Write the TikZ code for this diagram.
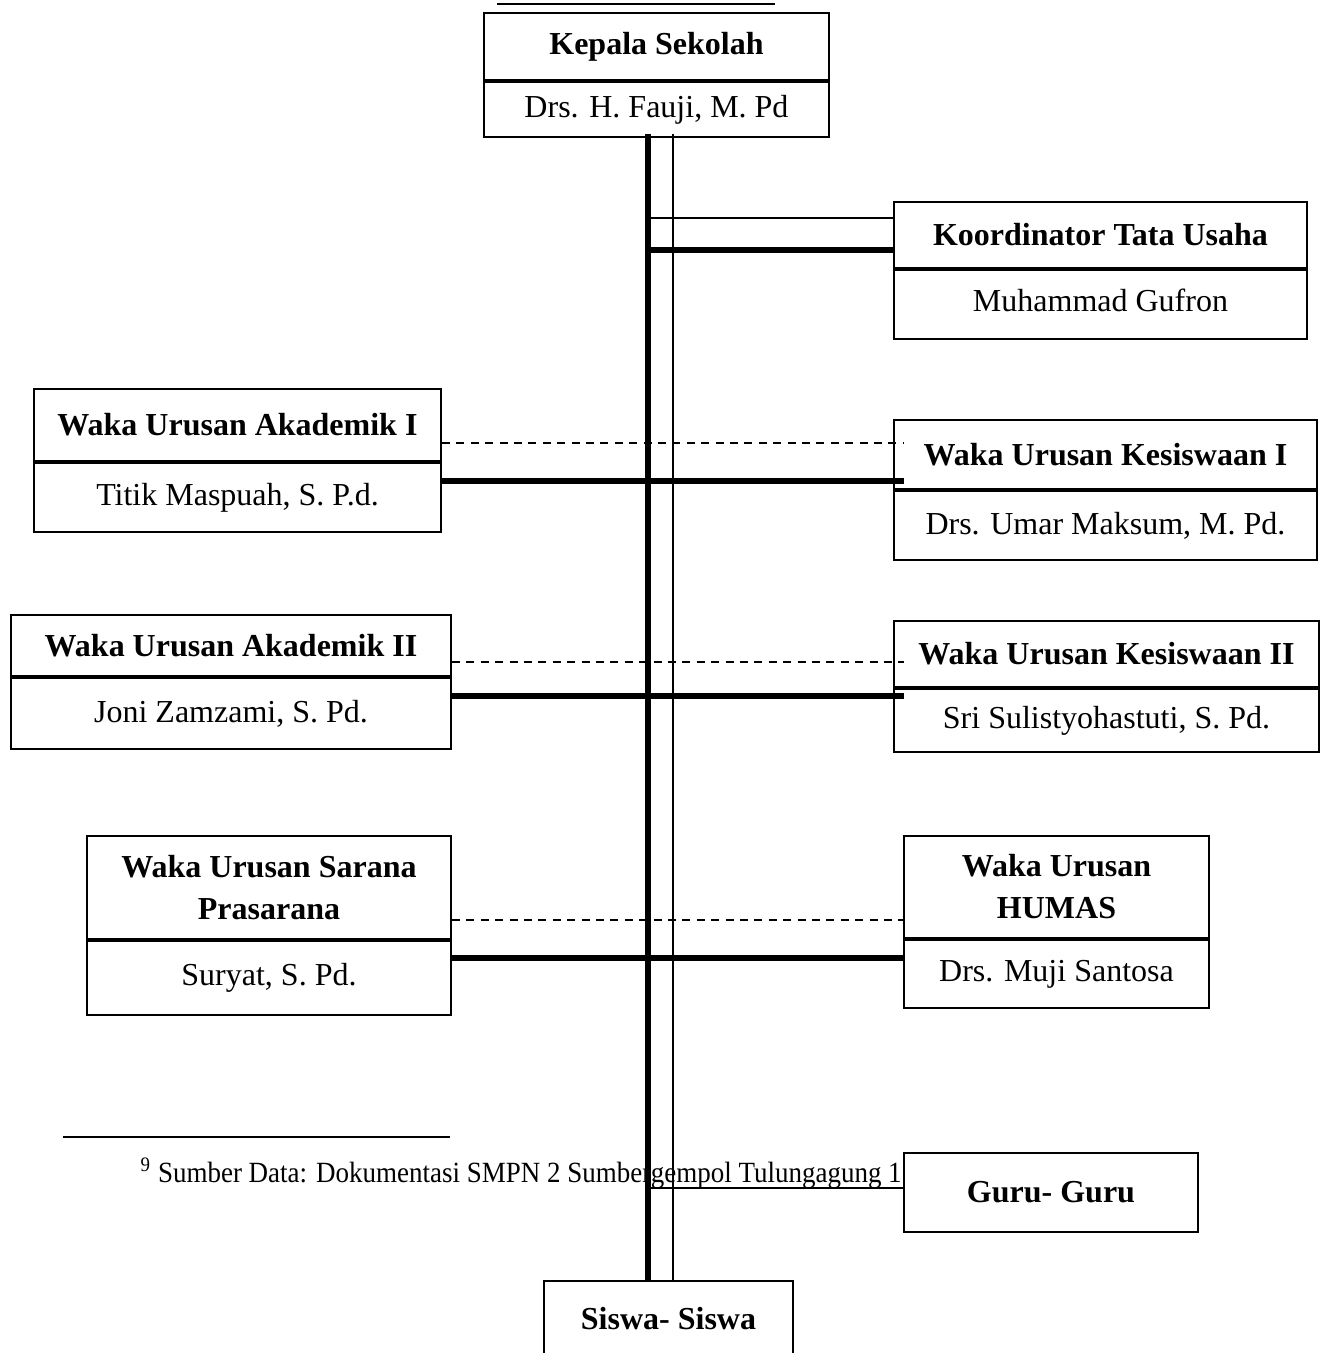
\documentclass[tikz,border=0pt]{standalone}
\usepackage{fontspec}
\setmainfont{Liberation Serif}
\newfontfamily\notefont[FakeStretch=0.92]{Liberation Serif}
\tikzset{
  headbox/.style={draw, line width=0.75pt, fill=white, inner sep=0pt, anchor=north west,
    align=center, font=\fontsize{12pt}{15.75pt}\selectfont\bfseries},
  namebox/.style={draw, line width=0.75pt, fill=white, inner sep=0pt, anchor=north,
    font=\fontsize{12pt}{14pt}\selectfont},
  thickline/.style={line width=1.9pt},
  thinline/.style={line width=0.7pt},
  dashline/.style={line width=0.6pt, dash pattern=on 3pt off 2.4pt},
}

\begin{document}
\begin{tikzpicture}[x=0.375pt,y=-0.375pt]
\useasboundingbox (0,0) rectangle (1326,1353);
\clip (0,0) rectangle (1326,1353);
% cut-off title rule and footnote
\draw[line width=0.75pt] (497,4) -- (775,4);
\draw[line width=0.75pt] (63,1137) -- (450,1137);
\node[anchor=base west, inner sep=0pt, font=\notefont\fontsize{11pt}{13pt}\selectfont] (sumber) at (140,1182)
  {\textsuperscript{9} Sumber Data: Dokumentasi SMPN 2 Sumbergempol Tulungagung 1};
% boxes
\node[headbox, minimum width=129.375pt, minimum height=25.125pt] (kepala) at (483,12) {Kepala Sekolah};
\node[namebox, minimum width=129.375pt, minimum height=20.625pt] (kepalaN) at (kepala.south) {Drs. H. Fauji, M. Pd};
\node[headbox, minimum width=154.875pt, minimum height=24.75pt] (tu) at (893,201) {Koordinator Tata Usaha};
\node[namebox, minimum width=154.875pt, minimum height=25.875pt] (tuN) at (tu.south) {\raisebox{3.5pt}{Muhammad Gufron}};
\node[headbox, minimum width=152.625pt, minimum height=27pt] (akad1) at (33,388) {Waka Urusan Akademik I};
\node[namebox, minimum width=152.625pt, minimum height=25.875pt] (akad1N) at (akad1.south) {Titik Maspuah, S. P.d.};
\node[headbox, minimum width=158.625pt, minimum height=25.875pt] (kes1) at (893,419) {Waka Urusan Kesiswaan I};
\node[namebox, minimum width=158.625pt, minimum height=25.875pt] (kes1N) at (kes1.south) {\raisebox{-1.2pt}{Drs. Umar Maksum, M. Pd.}};
\node[headbox, minimum width=165pt, minimum height=22.875pt] (akad2) at (10,614) {Waka Urusan Akademik II};
\node[namebox, minimum width=165pt, minimum height=26.625pt] (akad2N) at (akad2.south) {\raisebox{-2.6pt}{Joni Zamzami, S. Pd.}};
\node[headbox, minimum width=159.375pt, minimum height=24.75pt] (kes2) at (893,620) {Waka Urusan Kesiswaan II};
\node[namebox, minimum width=159.375pt, minimum height=23.625pt] (kes2N) at (kes2.south) {Sri Sulistyohastuti, S. Pd.};
\node[headbox, minimum width=136.5pt, minimum height=38.625pt] (sarpras) at (86,835) {Waka Urusan Sarana\\Prasarana};
\node[namebox, minimum width=136.5pt, minimum height=27.75pt] (sarprasN) at (sarpras.south) {Suryat, S. Pd.};
\node[headbox, minimum width=114.375pt, minimum height=38.25pt] (humas) at (903,835) {Waka Urusan\\HUMAS};
\node[namebox, minimum width=114.375pt, minimum height=25.5pt] (humasN) at (humas.south) {\raisebox{-2pt}{Drs. Muji Santosa}};
\node[headbox, minimum width=110.25pt, minimum height=29.625pt] (guru) at (903,1152) {Guru- Guru};
\node[headbox, minimum width=93.375pt, minimum height=28.5pt] (siswa) at (543,1280) {Siswa- Siswa};
% spine
\coordinate (thicktop) at (648,134);
\coordinate (thintop) at (673,134);
\draw[thickline] (thicktop) -- (thicktop |- siswa.north);
\draw[thinline] (thintop) -- (thintop |- siswa.north);
% branches
\coordinate (tuthin) at (650,218);
\coordinate (tuthick) at (648,250);
\draw[thinline] (tuthin) -- (tuthin -| tu.west);
\draw[thickline] (tuthick) -- (tuthick -| tu.west);
\coordinate (kes1in) at ([xshift=4pt]kes1.west);
\coordinate (kes2in) at ([xshift=4pt]kes2.west);
\coordinate (row1dash) at (0,443);
\coordinate (row1thick) at (0,481);
\draw[dashline] (row1dash -| akad1.east) -- (row1dash -| kes1in);
\draw[thickline] (row1thick -| akad1.east) -- (row1thick -| kes1in);
\coordinate (row2dash) at (0,662);
\coordinate (row2thick) at (0,696);
\draw[dashline] (row2dash -| akad2.east) -- (row2dash -| kes2in);
\draw[thickline] (row2thick -| akad2.east) -- (row2thick -| kes2in);
\coordinate (row3dash) at (0,920);
\coordinate (row3thick) at (0,958);
\draw[dashline] (row3dash -| sarpras.east) -- (row3dash -| humas.west);
\draw[thickline] (row3thick -| sarpras.east) -- (row3thick -| humas.west);
\coordinate (guruthin) at (650,1188);
\draw[thinline] (guruthin) -- (guruthin -| guru.west);
\end{tikzpicture}
\end{document}
